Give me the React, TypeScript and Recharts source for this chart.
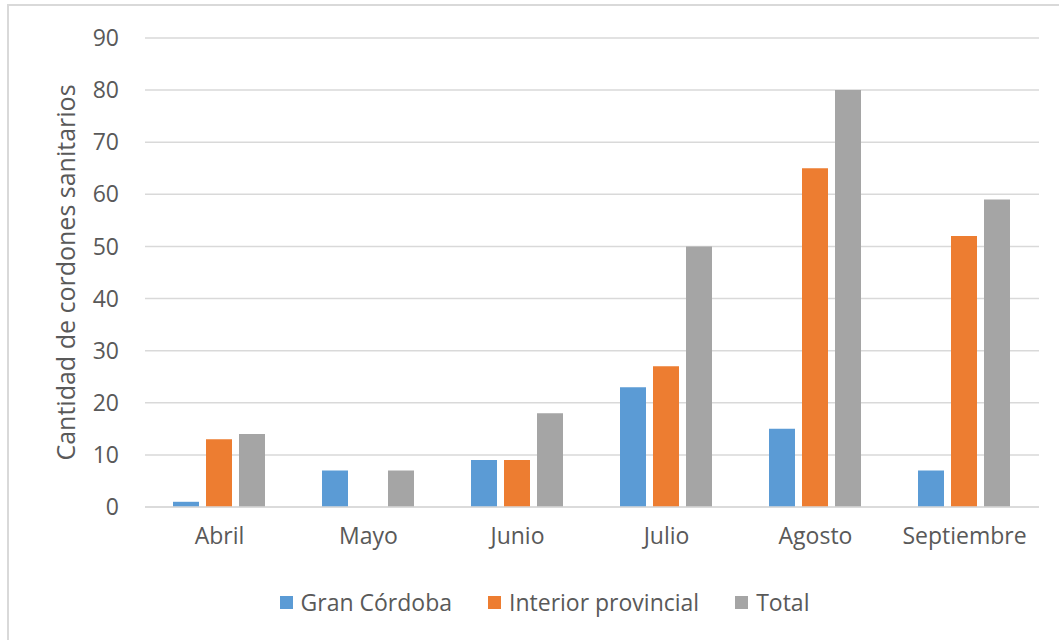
import { Bar, BarChart, CartesianGrid, Legend, XAxis, YAxis } from 'recharts';

const months = ['Abril', 'Mayo', 'Junio', 'Julio', 'Agosto', 'Septiembre'];
const granCordoba = [1, 7, 9, 23, 15, 7];
const interiorProvincial = [13, 0, 9, 27, 65, 52];
const total = [14, 7, 18, 50, 80, 59];
const yTicks = [0, 10, 20, 30, 40, 50, 60, 70, 80, 90];

const series = [
  { key: 'gran', name: 'Gran Córdoba', color: '#5b9bd5' },
  { key: 'interior', name: 'Interior provincial', color: '#ed7d31' },
  { key: 'total', name: 'Total', color: '#a5a5a5' },
];

const data = months.map((m, i) => ({
  month: m,
  gran: granCordoba[i],
  interior: interiorProvincial[i],
  total: total[i],
}));

const FONT = '"Open Sans", "Noto Sans", sans-serif';
const TEXT = '#595959';

function LegendContent() {
  return (
    <div
      style={{
        height: 58,
        paddingTop: 22,
        boxSizing: 'border-box',
        display: 'flex',
        justifyContent: 'center',
        fontFamily: FONT,
        fontSize: 23,
        color: TEXT,
        lineHeight: '30px',
      }}
    >
      {series.map((s) => (
        <div key={s.key} style={{ display: 'flex', alignItems: 'center', margin: '0 18px' }}>
          <span style={{ width: 13, height: 13, background: s.color, marginRight: 8, display: 'inline-block' }} />
          <span>{s.name}</span>
        </div>
      ))}
    </div>
  );
}

function YLabel(props: any) {
  const vb = props.viewBox;
  const x = 65;
  const y = vb.y + vb.height / 2;
  return (
    <text
      x={x}
      y={y}
      transform={`rotate(-90, ${x}, ${y})`}
      textAnchor="middle"
      dominantBaseline="central"
      fill={TEXT}
      fontSize={25}
      fontFamily={FONT}
    >
      Cantidad de cordones sanitarios
    </text>
  );
}

export default function App() {
  return (
    <div style={{ position: 'relative', width: 1059, height: 640, overflow: 'hidden', background: '#fff' }}>
      <style>{'body{margin:0}'}</style>
      <div
        style={{
          position: 'absolute',
          left: 7,
          top: 4,
          width: 1100,
          height: 700,
          border: '2px solid #d9d9d9',
        }}
      />
      <BarChart
        width={1059}
        height={640}
        data={data}
        margin={{ top: 38, right: 20, left: 50, bottom: 20 }}
        barCategoryGap={28}
        barGap={7}
        style={{ position: 'absolute', left: 0, top: 0 }}
      >
        <CartesianGrid vertical={false} stroke="#d9d9d9" strokeWidth={1.5} />
        <XAxis
          dataKey="month"
          height={55}
          tickLine={false}
          axisLine={{ stroke: '#d9d9d9', strokeWidth: 1.5 }}
          tickSize={0}
          tickMargin={21}
          tick={{ fontSize: 23, fill: TEXT, fontFamily: FONT }}
        />
        <YAxis
          width={95}
          domain={[0, 90]}
          ticks={yTicks}
          tickLine={false}
          axisLine={false}
          tickSize={0}
          tickMargin={26}
          tick={{ fontSize: 23, fill: TEXT, fontFamily: FONT }}
          label={<YLabel />}
        />
        <Legend verticalAlign="bottom" content={<LegendContent />} />
        {series.map((s) => (
          <Bar key={s.key} dataKey={s.key} name={s.name} fill={s.color} isAnimationActive={false} />
        ))}
      </BarChart>
    </div>
  );
}
